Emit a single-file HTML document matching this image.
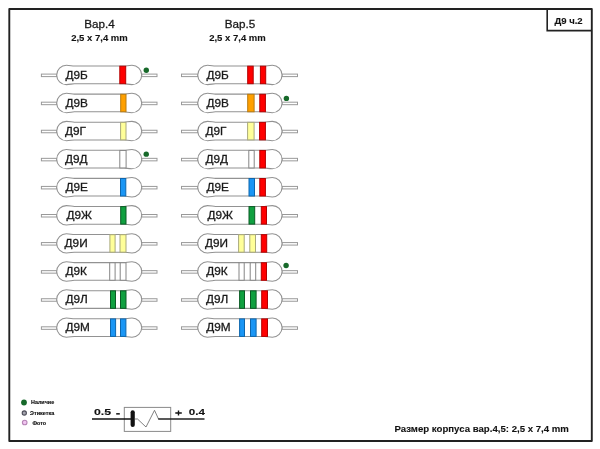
<!DOCTYPE html>
<html><head><meta charset="utf-8"><title>D9</title>
<style>html,body{margin:0;padding:0;background:#fff;overflow:hidden}svg{display:block;will-change:transform}text{font-family:"Liberation Sans",sans-serif;stroke:#151515;stroke-width:.28px}text[font-weight=bold]{stroke-width:.1px}</style>
</head><body>
<svg width="600" height="449" viewBox="0 0 600 449" font-family="Liberation Sans, sans-serif">
<defs>
<g id="d1" fill="#fff" stroke="#929292" stroke-width="1.05"><rect x="0.4" y="-0.8" width="15.30" height="2.5" stroke="#999" stroke-width="1"/><rect x="100.70" y="-0.8" width="15.30" height="2.5" stroke="#999" stroke-width="1"/><path d="M33.4,-8.85 C30.9,-8.85 28.9,-9.7 25.4,-9.7 A9.7,9.7 0 0 0 25.4,9.7 C28.9,9.7 30.9,8.85 33.4,8.85 L83.0,8.85 C85.5,8.85 87.5,9.7 91.0,9.7 A9.7,9.7 0 0 0 91.0,-9.7 C87.5,-9.7 85.5,-8.85 83.0,-8.85 Z"/></g>
<g id="d2" fill="#fff" stroke="#929292" stroke-width="1.05"><rect x="0.1" y="-0.8" width="16.25" height="2.5" stroke="#999" stroke-width="1"/><rect x="100.65" y="-0.8" width="15.45" height="2.5" stroke="#999" stroke-width="1"/><path d="M34.05,-8.85 C31.55,-8.85 29.55,-9.7 26.05,-9.7 A9.7,9.7 0 0 0 26.05,9.7 C29.55,9.7 31.55,8.85 34.05,8.85 L82.95,8.85 C85.45,8.85 87.45,9.7 90.95,9.7 A9.7,9.7 0 0 0 90.95,-9.7 C87.45,-9.7 85.45,-8.85 82.95,-8.85 Z"/></g>
</defs>
<rect width="600" height="449" fill="#fff"/>
<!-- frame -->
<rect x="9.3" y="9" width="582.5" height="432" fill="none" stroke="#222" stroke-width="1.9" stroke-linejoin="round"/>
<path d="M547.2,9 V30.6 H591.8" fill="none" stroke="#222" stroke-width="1.6"/>
<text x="554.4" y="23.8" font-size="9.5" font-weight="bold" fill="#111" textLength="28.3" lengthAdjust="spacingAndGlyphs">Д9 ч.2</text>
<!-- headings -->
<text x="84.2" y="27.8" font-size="11.7" fill="#1a1a1a" textLength="30.5" lengthAdjust="spacingAndGlyphs">Вар.4</text>
<text x="71.2" y="41.2" font-size="9.5" font-weight="bold" fill="#111" textLength="56.6" lengthAdjust="spacingAndGlyphs">2,5 x 7,4 mm</text>
<text x="224.7" y="27.8" font-size="11.7" fill="#1a1a1a" textLength="30.5" lengthAdjust="spacingAndGlyphs">Вар.5</text>
<text x="209.2" y="41.2" font-size="9.5" font-weight="bold" fill="#111" textLength="56.6" lengthAdjust="spacingAndGlyphs">2,5 x 7,4 mm</text>
<!-- diodes -->
<g transform="translate(41.00,74.90)"><use href="#d1"/><rect x="78.80" y="-8.7" width="5.90" height="17.5" fill="#ff0000" stroke="#b40000" stroke-width="1"/><text x="24.40" y="3.7" font-size="11.8" fill="#1a1a1a" style="stroke-width:.3px">Д9Б</text><circle cx="105.3" cy="-4.6" r="2.7" fill="#17692a"/></g>
<g transform="translate(181.40,74.90)"><use href="#d2"/><rect x="66.30" y="-8.7" width="5.50" height="17.5" fill="#ff0000" stroke="#b40000" stroke-width="1"/><rect x="79.00" y="-8.7" width="5.30" height="17.5" fill="#ff0000" stroke="#b40000" stroke-width="1"/><text x="25.10" y="3.7" font-size="11.8" fill="#1a1a1a" style="stroke-width:.3px">Д9Б</text></g>
<g transform="translate(41.00,102.98)"><use href="#d1"/><rect x="79.70" y="-8.7" width="5.30" height="17.5" fill="#ffa000" stroke="#b87a10" stroke-width="1"/><text x="24.40" y="3.7" font-size="11.8" fill="#1a1a1a" style="stroke-width:.3px">Д9В</text></g>
<g transform="translate(181.40,102.98)"><use href="#d2"/><rect x="66.30" y="-8.7" width="6.40" height="17.5" fill="#ffa000" stroke="#b87a10" stroke-width="1"/><rect x="78.40" y="-8.7" width="5.60" height="17.5" fill="#ff0000" stroke="#b40000" stroke-width="1"/><text x="25.10" y="3.7" font-size="11.8" fill="#1a1a1a" style="stroke-width:.3px">Д9В</text><circle cx="105.0" cy="-4.6" r="2.7" fill="#17692a"/></g>
<g transform="translate(41.00,131.06)"><use href="#d1"/><rect x="79.60" y="-8.7" width="5.40" height="17.5" fill="#ffff99" stroke="#a9a97c" stroke-width="1"/><text x="23.90" y="3.7" font-size="11.8" fill="#1a1a1a" style="stroke-width:.3px">Д9Г</text></g>
<g transform="translate(181.40,131.06)"><use href="#d2"/><rect x="66.20" y="-8.7" width="6.50" height="17.5" fill="#ffff99" stroke="#a9a97c" stroke-width="1"/><rect x="78.20" y="-8.7" width="5.80" height="17.5" fill="#ff0000" stroke="#b40000" stroke-width="1"/><text x="24.00" y="3.7" font-size="11.8" fill="#1a1a1a" style="stroke-width:.3px">Д9Г</text></g>
<g transform="translate(41.00,159.14)"><use href="#d1"/><rect x="78.80" y="-8.7" width="6.30" height="17.5" fill="#ffffff" stroke="#858585" stroke-width="1"/><text x="23.90" y="3.7" font-size="11.8" fill="#1a1a1a" style="stroke-width:.3px">Д9Д</text><circle cx="105.25" cy="-5.0" r="2.7" fill="#17692a"/></g>
<g transform="translate(181.40,159.14)"><use href="#d2"/><rect x="67.40" y="-8.7" width="5.40" height="17.5" fill="#ffffff" stroke="#858585" stroke-width="1"/><rect x="78.40" y="-8.7" width="5.60" height="17.5" fill="#ff0000" stroke="#b40000" stroke-width="1"/><text x="24.00" y="3.7" font-size="11.8" fill="#1a1a1a" style="stroke-width:.3px">Д9Д</text></g>
<g transform="translate(41.00,187.22)"><use href="#d1"/><rect x="79.50" y="-8.7" width="5.30" height="17.5" fill="#1a96f5" stroke="#0d66ad" stroke-width="1"/><text x="24.40" y="3.7" font-size="11.8" fill="#1a1a1a" style="stroke-width:.3px">Д9Е</text></g>
<g transform="translate(181.40,187.22)"><use href="#d2"/><rect x="67.60" y="-8.7" width="5.50" height="17.5" fill="#1a96f5" stroke="#0d66ad" stroke-width="1"/><rect x="78.40" y="-8.7" width="5.60" height="17.5" fill="#ff0000" stroke="#b40000" stroke-width="1"/><text x="25.10" y="3.7" font-size="11.8" fill="#1a1a1a" style="stroke-width:.3px">Д9Е</text></g>
<g transform="translate(41.00,215.30)"><use href="#d1"/><rect x="79.70" y="-8.7" width="5.30" height="17.5" fill="#10a040" stroke="#0a5a24" stroke-width="1"/><text x="25.40" y="3.7" font-size="11.8" fill="#1a1a1a" style="stroke-width:.3px">Д9Ж</text></g>
<g transform="translate(181.40,215.30)"><use href="#d2"/><rect x="67.60" y="-8.7" width="5.70" height="17.5" fill="#10a040" stroke="#0a5a24" stroke-width="1"/><rect x="79.90" y="-8.7" width="5.20" height="17.5" fill="#ff0000" stroke="#b40000" stroke-width="1"/><text x="26.10" y="3.7" font-size="11.8" fill="#1a1a1a" style="stroke-width:.3px">Д9Ж</text></g>
<g transform="translate(41.00,243.38)"><use href="#d1"/><rect x="68.90" y="-8.7" width="5.20" height="17.5" fill="#ffff99" stroke="#a9a97c" stroke-width="1"/><rect x="79.00" y="-8.7" width="6.00" height="17.5" fill="#ffff99" stroke="#a9a97c" stroke-width="1"/><text x="23.60" y="3.7" font-size="11.8" fill="#1a1a1a" style="stroke-width:.3px">Д9И</text></g>
<g transform="translate(181.40,243.38)"><use href="#d2"/><rect x="57.20" y="-8.7" width="5.60" height="17.5" fill="#ffff99" stroke="#a9a97c" stroke-width="1"/><rect x="68.40" y="-8.7" width="5.70" height="17.5" fill="#ffff99" stroke="#a9a97c" stroke-width="1"/><rect x="79.90" y="-8.7" width="5.40" height="17.5" fill="#ff0000" stroke="#b40000" stroke-width="1"/><text x="23.60" y="3.7" font-size="11.8" fill="#1a1a1a" style="stroke-width:.3px">Д9И</text></g>
<g transform="translate(41.00,271.46)"><use href="#d1"/><rect x="68.70" y="-8.7" width="5.40" height="17.5" fill="#ffffff" stroke="#858585" stroke-width="1"/><rect x="79.20" y="-8.7" width="5.80" height="17.5" fill="#ffffff" stroke="#858585" stroke-width="1"/><text x="24.40" y="3.7" font-size="11.8" fill="#1a1a1a" style="stroke-width:.3px">Д9К</text></g>
<g transform="translate(181.40,271.46)"><use href="#d2"/><rect x="57.60" y="-8.7" width="5.20" height="17.5" fill="#ffffff" stroke="#858585" stroke-width="1"/><rect x="68.80" y="-8.7" width="5.50" height="17.5" fill="#ffffff" stroke="#858585" stroke-width="1"/><rect x="79.90" y="-8.7" width="5.20" height="17.5" fill="#ff0000" stroke="#b40000" stroke-width="1"/><text x="24.90" y="3.7" font-size="11.8" fill="#1a1a1a" style="stroke-width:.3px">Д9К</text><circle cx="104.7" cy="-5.9" r="2.7" fill="#17692a"/></g>
<g transform="translate(41.00,299.54)"><use href="#d1"/><rect x="69.50" y="-8.7" width="5.00" height="17.5" fill="#10a040" stroke="#0a5a24" stroke-width="1"/><rect x="79.50" y="-8.7" width="5.50" height="17.5" fill="#10a040" stroke="#0a5a24" stroke-width="1"/><text x="24.40" y="3.7" font-size="11.8" fill="#1a1a1a" style="stroke-width:.3px">Д9Л</text></g>
<g transform="translate(181.40,299.54)"><use href="#d2"/><rect x="58.20" y="-8.7" width="4.90" height="17.5" fill="#10a040" stroke="#0a5a24" stroke-width="1"/><rect x="69.10" y="-8.7" width="5.60" height="17.5" fill="#10a040" stroke="#0a5a24" stroke-width="1"/><rect x="80.30" y="-8.7" width="5.80" height="17.5" fill="#ff0000" stroke="#b40000" stroke-width="1"/><text x="24.60" y="3.7" font-size="11.8" fill="#1a1a1a" style="stroke-width:.3px">Д9Л</text></g>
<g transform="translate(41.00,327.62)"><use href="#d1"/><rect x="69.50" y="-8.7" width="5.10" height="17.5" fill="#1a96f5" stroke="#0d66ad" stroke-width="1"/><rect x="79.50" y="-8.7" width="5.40" height="17.5" fill="#1a96f5" stroke="#0d66ad" stroke-width="1"/><text x="24.40" y="3.7" font-size="11.8" fill="#1a1a1a" style="stroke-width:.3px">Д9М</text></g>
<g transform="translate(181.40,327.62)"><use href="#d2"/><rect x="58.20" y="-8.7" width="4.90" height="17.5" fill="#1a96f5" stroke="#0d66ad" stroke-width="1"/><rect x="69.10" y="-8.7" width="5.60" height="17.5" fill="#1a96f5" stroke="#0d66ad" stroke-width="1"/><rect x="80.30" y="-8.7" width="5.80" height="17.5" fill="#ff0000" stroke="#b40000" stroke-width="1"/><text x="24.80" y="3.7" font-size="11.8" fill="#1a1a1a" style="stroke-width:.3px">Д9М</text></g>

<!-- legend -->
<circle cx="24" cy="402.5" r="2.9" fill="#17692a"/>
<circle cx="24.3" cy="413" r="2.1" fill="#a4a4ae" stroke="#4c4c58" stroke-width="1.1"/>
<circle cx="24.7" cy="422.5" r="2.3" fill="#f0c4f0" stroke="#b684b6" stroke-width="1.1"/>
<text x="31" y="404.2" font-size="5.4" font-weight="bold" fill="#111" textLength="23.2" lengthAdjust="spacingAndGlyphs" style="stroke-width:.15px">Наличие</text>
<text x="30" y="414.6" font-size="5.4" font-weight="bold" fill="#111" textLength="24.4" lengthAdjust="spacingAndGlyphs" style="stroke-width:.15px">Этикетка</text>
<text x="32.4" y="424.6" font-size="5.4" font-weight="bold" fill="#111" textLength="13.6" lengthAdjust="spacingAndGlyphs" style="stroke-width:.15px">Фото</text>
<!-- symbol -->
<rect x="124.3" y="407.4" width="46.4" height="24" fill="#fff" stroke="#8a8a8a" stroke-width="1"/>
<path d="M92,419 H131" stroke="#111" stroke-width="1.5" fill="none"/>
<path d="M132.7,412.3 V425" stroke="#111" stroke-width="4.2" stroke-linecap="round" fill="none"/>
<path d="M135,419 H137.5 L146,427 L154.5,410.3 L158.5,419" stroke="#6a6a6a" stroke-width="0.85" fill="none" stroke-linejoin="miter"/>
<path d="M158.2,419 H204.5" stroke="#222" stroke-width="1.4" fill="none"/>
<text x="93.9" y="415.3" font-size="8.6" font-weight="bold" fill="#111" textLength="17.1" lengthAdjust="spacingAndGlyphs">0.5</text>
<rect x="116.2" y="413.1" width="3.6" height="1.5" fill="#111"/>
<path d="M175.3,413 H181.8 M178.5,410.6 V415.4" stroke="#111" stroke-width="1.4" fill="none"/>
<text x="188.7" y="415.3" font-size="8.6" font-weight="bold" fill="#111" textLength="16.2" lengthAdjust="spacingAndGlyphs">0.4</text>
<!-- footer -->
<text x="394.5" y="432.4" font-size="9.6" font-weight="bold" fill="#111" textLength="174.4" lengthAdjust="spacingAndGlyphs">Размер корпуса вар.4,5: 2,5 x 7,4 mm</text>
</svg>
</body></html>
